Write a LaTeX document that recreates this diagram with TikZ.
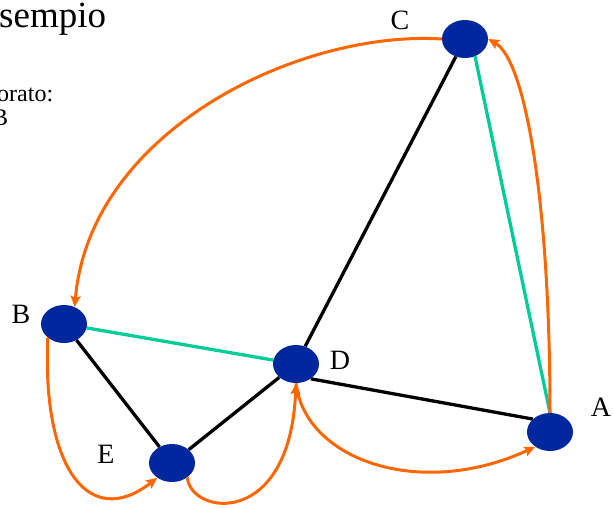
\documentclass[tikz,border=0pt]{standalone}
\usepackage{fontspec}
\setmainfont{Liberation Serif}
\usetikzlibrary{shapes.geometric,arrows.meta,backgrounds}
\definecolor{nodeblue}{RGB}{0,40,158}
\definecolor{arcorange}{RGB}{255,102,0}
\definecolor{arcteal}{RGB}{0,204,153}
\tikzset{
  vertex/.style={ellipse,fill=nodeblue,minimum width=46pt,minimum height=38pt,inner sep=0pt},
  vlabel/.style={font=\fontsize{28}{30}\selectfont,inner sep=0pt},
  blackedge/.style={black,line width=3.3pt},
  tealedge/.style={arcteal,line width=3.3pt},
  visit/.style={arcorange,line width=3pt,-{Stealth[length=11pt,width=10pt,inset=2pt]}},
}
\begin{document}
\begin{tikzpicture}[x=1pt,y=-1pt]
\useasboundingbox (0,0) rectangle (614,507);
\clip (0,0) rectangle (614,507);
% title text (cut off at the left edge)
\node[anchor=base west,inner sep=0pt,font=\fontsize{37}{40}\selectfont] (title) at (-1,27) {sempio};
\node[anchor=base west,inner sep=0pt,font=\fontsize{24}{26}\selectfont] (line1) at (-3,101) {orato:};
\node[anchor=base west,inner sep=0pt,font=\fontsize{24}{26}\selectfont] (line2) at (-8,125) {B};
% vertices
\node[vertex] (C) at (465,39) {};
\node[vertex] (B) at (64,324) {};
\node[vertex] (D) at (296,364) {};
\node[vertex] (E) at (172,463) {};
\node[vertex] (A) at (550,432) {};
% labels
\node[vlabel] (lC) at (400,20) {C};
\node[vlabel] (lB) at (21,314) {B};
\node[vlabel] (lD) at (340,360) {D};
\node[vlabel] (lE) at (106,454) {E};
\node[vlabel] (lA) at (601,407) {A};
\begin{scope}[on background layer]
  \draw[blackedge] (C) -- (D);
  \draw[blackedge] (B) -- (E);
  \draw[blackedge] (E) -- (D);
  \draw[blackedge] (D.-45) -- (A.143);
  \draw[tealedge] (C.-60) -- (A.north);
  \draw[tealedge] (B) -- (D);
\end{scope}
% traversal arcs
\draw[visit] (C.west) .. controls (300,30) and (90,130) .. (B.58);
\draw[visit] (A.north) .. controls (550,200) and (525,60) .. (C.east);
\draw[visit] (D.south) .. controls (305,460) and (420,500) .. (A.-135);
\draw[visit] (B.-140) .. controls (42,470) and (90,530) .. (E.-135);
\draw[visit] (E.-43) .. controls (190,515) and (290,530) .. (D.south);
\end{tikzpicture}
\end{document}
